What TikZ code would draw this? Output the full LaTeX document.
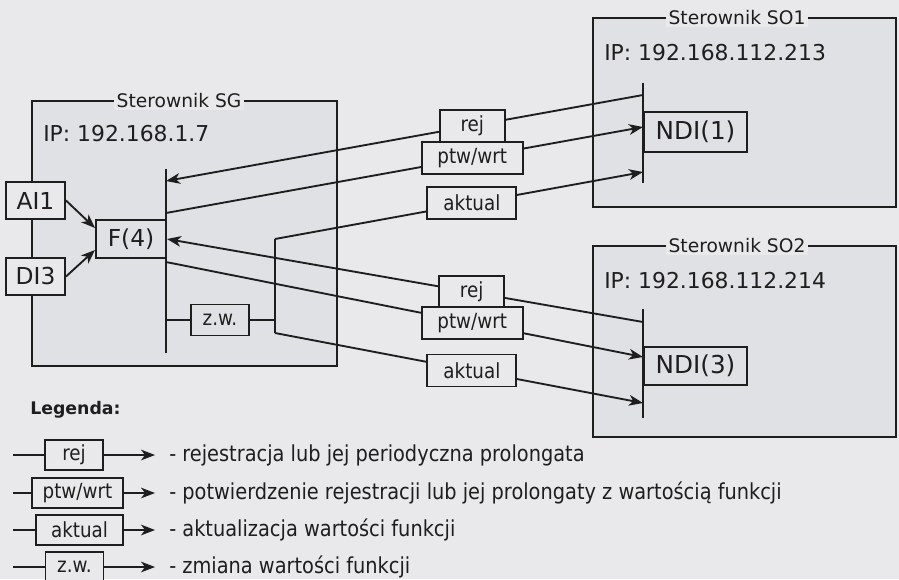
\documentclass[tikz,border=0pt]{standalone}
\usepackage{fontspec}
\setmainfont{DejaVu Sans}
\newfontfamily\narrowfont{DejaVu Sans}[FakeStretch=0.88]
\usetikzlibrary{arrows.meta}
\definecolor{paper}{RGB}{233,233,235}
\definecolor{boxbg}{RGB}{224,225,228}
\definecolor{ink}{RGB}{30,30,30}
\tikzset{
  cont/.style={draw=ink, line width=1.7pt, fill=boxbg, inner sep=0pt},
  ctitle/.style={fill=paper, text=ink, inner xsep=2pt, inner ysep=1pt, font=\fontsize{14}{16}\selectfont},
  iptext/.style={anchor=west, text=ink, inner sep=0pt, font=\fontsize{16.4}{19}\selectfont},
  fbox/.style={draw=ink, line width=1.5pt, fill=boxbg, text=ink, inner sep=0pt, font=\fontsize{17.5}{20}\selectfont},
  msg/.style={draw=ink, line width=1.4pt, fill=paper, text=ink, minimum height=24pt, inner sep=0pt, font=\narrowfont\fontsize{15.6}{18}\selectfont},
  wire/.style={draw=ink, line width=1.4pt},
  arr/.style={wire, -{Stealth[length=10.5pt,width=8pt,inset=3pt]}},
  bar/.style={draw=ink, line width=1.5pt},
  legtext/.style={anchor=west, text=ink, inner sep=0pt, font=\narrowfont\fontsize{16.5}{19}\selectfont},
}
\begin{document}
\begin{tikzpicture}[x=0.75pt,y=-0.75pt]
\fill[paper] (0,0) rectangle (899,579);
\useasboundingbox (0,0) rectangle (899,579);

% controllers
\node[cont, minimum width=228.75pt, minimum height=198.75pt] (sg) at (184.5,233.5) {};
\node[ctitle] (sgt) at (179,101) {Sterownik SG};
\node[iptext] (sgip) at (43,134) {IP: 192.168.1.7};

\node[cont, minimum width=227.25pt, minimum height=141.75pt] (so1) at (744.5,112.5) {};
\node[ctitle] (so1t) at (737,18) {Sterownik SO1};
\node[iptext] (so1ip) at (604,53) {IP: 192.168.112.213};

\node[cont, minimum width=227.25pt, minimum height=143.25pt] (so2) at (744.5,341.5) {};
\node[ctitle] (so2t) at (737,246) {Sterownik SO2};
\node[iptext] (so2ip) at (604,281) {IP: 192.168.112.214};

% SG internals
\coordinate (sgbt) at (166,169);
\coordinate (sgbb) at (166,353);
\draw[bar] (sgbt) -- (sgbb);
\node[fbox, fill=paper, minimum width=44.25pt, minimum height=27.75pt] (ai1) at (35.5,200.5) {AI1};
\node[fbox, fill=paper, minimum width=44.25pt, minimum height=27.75pt] (di3) at (35.5,276.5) {DI3};
\node[fbox, minimum width=52.5pt, minimum height=28.5pt] (f4) at (131,239) {F(4)};
\draw[arr] (ai1.east) -- ([yshift=8.25pt]f4.west);
\draw[arr] (di3.east) -- ([yshift=-8.25pt]f4.west);

\node[msg, fill=boxbg, minimum width=43.5pt, minimum height=23.25pt] (zw) at (220,320) {z.w.};
\coordinate (zwa) at (166,320);
\coordinate (spm) at (275,320);
\coordinate (spt) at (275,239);
\coordinate (spb) at (275,333);
\draw[wire] (zwa) -- (zw) -- (spm);
\draw[wire] (spt) -- (spb);

% SO1 internals
\coordinate (s1bt) at (643,83);
\coordinate (s1bb) at (643,183);
\draw[bar] (s1bt) -- (s1bb);
\node[fbox, anchor=west, minimum width=77.25pt, minimum height=30pt, font=\fontsize{18.5}{21}\selectfont] (ndi1) at (643,132) {NDI(1)};

% SO2 internals
\coordinate (s2bt) at (643,309);
\coordinate (s2bb) at (643,418);
\draw[bar] (s2bt) -- (s2bb);
\node[fbox, anchor=west, minimum width=77.25pt, minimum height=28.5pt, font=\fontsize{18.5}{21}\selectfont] (ndi3) at (643,366) {NDI(3)};

% messages between SG and SO1
\coordinate (s1rej) at (643,95);
\coordinate (sgrej) at (166,181);
\draw[arr] (s1rej) -- node[msg, pos=0.358, minimum width=48.75pt] (m1) {rej} (sgrej);
\coordinate (sgptw1) at (166,213);
\coordinate (s1ptw) at (643,127);
\draw[arr] (sgptw1) -- node[msg, pos=0.642, minimum width=75.75pt] (m2) {ptw/wrt} (s1ptw);
\coordinate (s1akt) at (643,172);
\draw[arr] (spt) -- node[msg, pos=0.535, minimum width=66.75pt] (m3) {aktual} (s1akt);

% messages between SG and SO2
\coordinate (s2rej) at (643,322);
\draw[arr] (s2rej) -- node[msg, pos=0.36, minimum width=48.75pt] (m4) {rej} (f4.east);
\coordinate (sgptw2) at (166,262);
\coordinate (s2ptw) at (643,357);
\draw[arr] (sgptw2) -- node[msg, pos=0.642, minimum width=75.75pt] (m5) {ptw/wrt} (s2ptw);
\coordinate (s2akt) at (643,403);
\draw[arr] (spb) -- node[msg, pos=0.535, minimum width=66.75pt] (m6) {aktual} (s2akt);

% legend
\node[anchor=west, text=ink, inner sep=0pt, font=\bfseries\fontsize{13}{16}\selectfont] (leg) at (30,410) {Legenda:};

\coordinate (l1a) at (13,455);
\coordinate (l1b) at (155,455);
\node[msg, minimum width=43.5pt, minimum height=22pt] (l1) at (74,455) {rej};
\draw[wire] (l1a) -- (l1);
\draw[arr] (l1) -- (l1b);
\node[legtext] (t1) at (169,455) {- rejestracja lub jej periodyczna prolongata};

\coordinate (l2a) at (13,493);
\coordinate (l2b) at (155,493);
\node[msg, minimum width=68.25pt, minimum height=22pt] (l2) at (77.5,493) {ptw/wrt};
\draw[wire] (l2a) -- (l2);
\draw[arr] (l2) -- (l2b);
\node[legtext] (t2) at (169,493) {- potwierdzenie rejestracji lub jej prolongaty z wartością funkcji};

\coordinate (l3a) at (13,530);
\coordinate (l3b) at (155,530);
\node[msg, minimum width=65.25pt, minimum height=22pt] (l3) at (79.5,530) {aktual};
\draw[wire] (l3a) -- (l3);
\draw[arr] (l3) -- (l3b);
\node[legtext] (t3) at (169,530) {- aktualizacja wartości funkcji};

\coordinate (l4a) at (13,567);
\coordinate (l4b) at (155,567);
\node[msg, minimum width=43.5pt, minimum height=22pt] (l4) at (74.5,567) {z.w.};
\draw[wire] (l4a) -- (l4);
\draw[arr] (l4) -- (l4b);
\node[legtext] (t4) at (169,567) {- zmiana wartości funkcji};
\end{tikzpicture}
\end{document}
